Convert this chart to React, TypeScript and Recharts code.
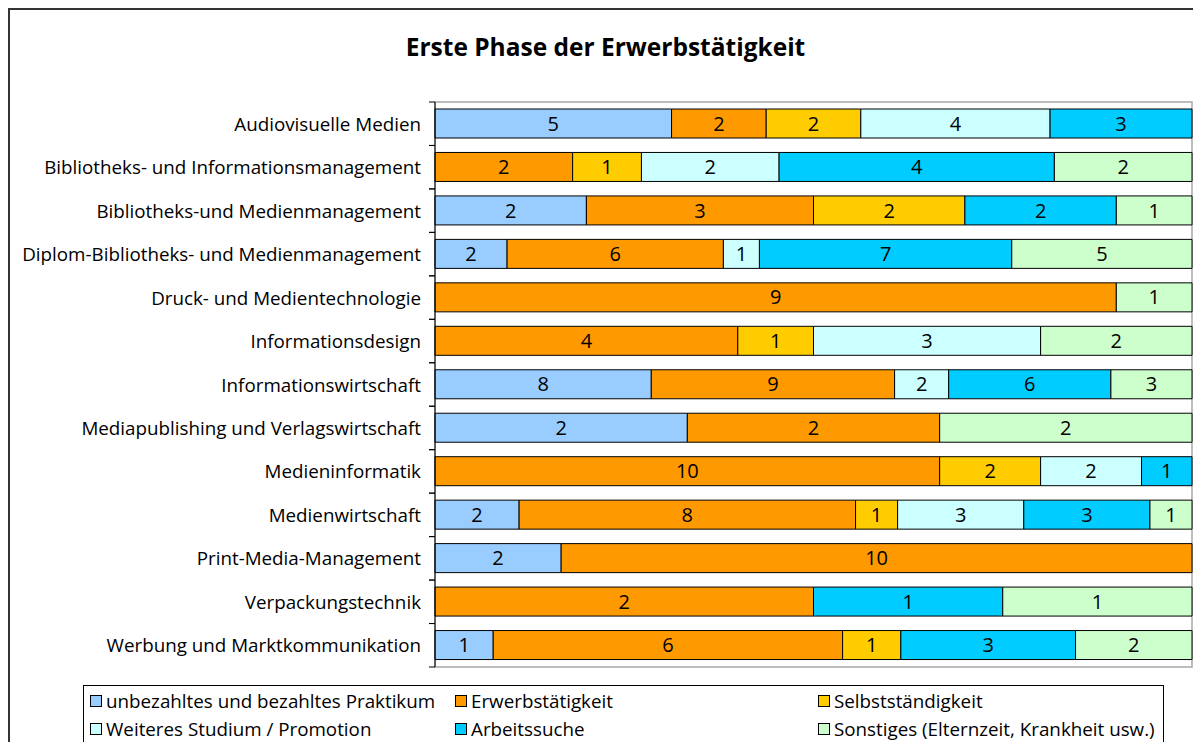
import { Bar, BarChart, LabelList, ReferenceArea, XAxis, YAxis } from 'recharts';

const CATEGORIES = [
  'Audiovisuelle Medien',
  'Bibliotheks- und Informationsmanagement',
  'Bibliotheks-und Medienmanagement',
  'Diplom-Bibliotheks- und Medienmanagement',
  'Druck- und Medientechnologie',
  'Informationsdesign',
  'Informationswirtschaft',
  'Mediapublishing und Verlagswirtschaft',
  'Medieninformatik',
  'Medienwirtschaft',
  'Print-Media-Management',
  'Verpackungstechnik',
  'Werbung und Marktkommunikation',
];

const PRAKTIKUM = [5, 0, 2, 2, 0, 0, 8, 2, 0, 2, 2, 0, 1];
const ERWERB = [2, 2, 3, 6, 9, 4, 9, 2, 10, 8, 10, 2, 6];
const SELBST = [2, 1, 2, 0, 0, 1, 0, 0, 2, 1, 0, 0, 1];
const STUDIUM = [4, 2, 0, 1, 0, 3, 2, 0, 2, 3, 0, 0, 0];
const SUCHE = [3, 4, 2, 7, 0, 0, 6, 0, 1, 3, 0, 1, 3];
const SONSTIGES = [0, 2, 1, 5, 1, 2, 3, 2, 0, 1, 0, 1, 2];

const SERIES = [
  { key: 'prak', name: 'unbezahltes und bezahltes Praktikum', color: '#99CCFF', values: PRAKTIKUM },
  { key: 'erwerb', name: 'Erwerbstätigkeit', color: '#FF9900', values: ERWERB },
  { key: 'selbst', name: 'Selbstständigkeit', color: '#FFCC00', values: SELBST },
  { key: 'studium', name: 'Weiteres Studium / Promotion', color: '#CCFFFF', values: STUDIUM },
  { key: 'suche', name: 'Arbeitssuche', color: '#00CCFF', values: SUCHE },
  { key: 'sonst', name: 'Sonstiges (Elternzeit, Krankheit usw.)', color: '#CCFFCC', values: SONSTIGES },
];

const data = CATEGORIES.map((name, i) => {
  const row: Record<string, string | number> = { name };
  SERIES.forEach((s) => {
    row[s.key] = s.values[i];
  });
  return row;
});

const FONT = '"Open Sans", sans-serif';
const CHART_W = 1191;
const CHART_H = 732;
const MARGIN = { top: 92, right: 9, bottom: 75, left: 0 };
const BAND = (CHART_H - MARGIN.top - MARGIN.bottom) / CATEGORIES.length;

const CategoryTick = (props: any) => {
  const { x, y, payload } = props;
  return (
    <g>
      <line x1={x - 6} x2={x} y1={y - BAND / 2} y2={y - BAND / 2} stroke="#000" />
      <line x1={x - 6} x2={x} y1={y + BAND / 2} y2={y + BAND / 2} stroke="#000" />
      <text x={x - 14} y={y} textAnchor="end" dominantBaseline="central" fontSize={18.8} fontFamily={FONT} fill="#000">
        {payload.value}
      </text>
    </g>
  );
};

export default function App() {
  return (
    <div
      style={{
        position: 'relative',
        width: 1193,
        height: 734,
        boxSizing: 'border-box',
        borderTop: '2px solid #333',
        borderLeft: '2px solid #333',
        overflow: 'hidden',
        background: '#fff',
        fontFamily: FONT,
      }}
    >
      <div
        style={{
          position: 'absolute',
          left: 0,
          top: 23,
          width: CHART_W,
          textAlign: 'center',
          fontSize: 24.5,
          lineHeight: '28px',
          fontWeight: 700,
          color: '#000',
        }}
      >
        Erste Phase der Erwerbstätigkeit
      </div>
      <BarChart
        width={CHART_W}
        height={CHART_H}
        data={data}
        layout="vertical"
        stackOffset="expand"
        margin={MARGIN}
        barSize={29}
      >
        <XAxis type="number" hide domain={[0, 1]} />
        <YAxis
          type="category"
          dataKey="name"
          width={425}
          axisLine={{ stroke: '#000' }}
          tickLine={false}
          tickSize={0}
          tickMargin={0}
          tick={<CategoryTick />}
          interval={0}
        />
        <ReferenceArea x1={0} x2={1} fill="#fff" fillOpacity={1} stroke="#a8a8a8" strokeWidth={1.5} />
        {SERIES.map((s) => (
          <Bar
            key={s.key}
            dataKey={s.key}
            name={s.name}
            stackId="a"
            fill={s.color}
            stroke="#000"
            strokeWidth={1}
            isAnimationActive={false}
          >
            <LabelList
              dataKey={s.key}
              position="center"
              fill="#000"
              fontSize={20}
              fontFamily={FONT}
              formatter={(v: any) => (v ? v : '')}
            />
          </Bar>
        ))}
      </BarChart>
      <div
        style={{
          position: 'absolute',
          left: 73,
          top: 675,
          width: 1081,
          height: 80,
          boxSizing: 'border-box',
          border: '1px solid #000',
          display: 'grid',
          gridTemplateColumns: '365px 363px 1fr',
          gridAutoRows: '28px',
          paddingTop: 1,
          paddingLeft: 6,
          fontSize: 18.8,
          color: '#000',
        }}
      >
        {SERIES.map((s) => (
          <div key={s.key} style={{ display: 'flex', alignItems: 'center', whiteSpace: 'nowrap' }}>
            <span
              style={{
                display: 'inline-block',
                width: 10,
                height: 10,
                border: '1px solid #000',
                background: s.color,
                marginRight: 4,
              }}
            />
            {s.name}
          </div>
        ))}
      </div>
    </div>
  );
}
